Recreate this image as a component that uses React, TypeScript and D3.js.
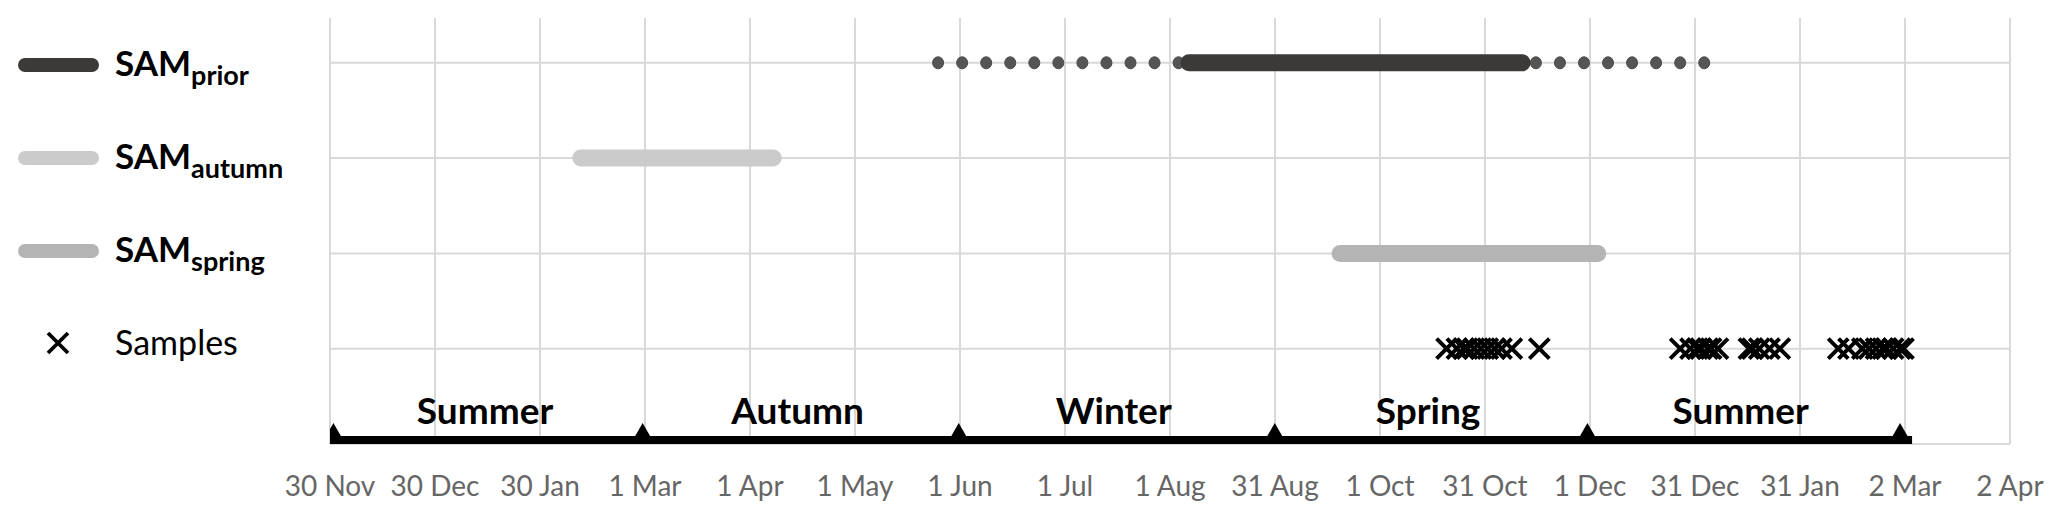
import React, { useEffect } from "react";
import * as d3 from "d3";

// ---------- data ----------
const tickLabels = [
  "30 Nov", "30 Dec", "30 Jan", "1 Mar", "1 Apr", "1 May", "1 Jun", "1 Jul",
  "1 Aug", "31 Aug", "1 Oct", "31 Oct", "1 Dec", "31 Dec", "31 Jan", "2 Mar", "2 Apr",
];
const axisStart = "2014-11-30";
const axisEnd = "2016-04-02";

const priorWeeklyDots = [
  "2015-05-26", "2015-06-02", "2015-06-09", "2015-06-16", "2015-06-23", "2015-06-30",
  "2015-07-07", "2015-07-14", "2015-07-21", "2015-07-28", "2015-08-04",
  "2015-11-16", "2015-11-23", "2015-11-30", "2015-12-07", "2015-12-14", "2015-12-21",
  "2015-12-28", "2016-01-04",
];
const priorCore = ["2015-08-07", "2015-11-12"];
const autumnRange = ["2015-02-11", "2015-04-08"];
const springRange = ["2015-09-20", "2015-12-04"];

const sampleDates = [
  "2015-10-21", "2015-10-24", "2015-10-26", "2015-10-27", "2015-10-29", "2015-10-31",
  "2015-11-02", "2015-11-04", "2015-11-06", "2015-11-09", "2015-11-17",
  "2015-12-28", "2015-12-31", "2016-01-02", "2016-01-03", "2016-01-05", "2016-01-06",
  "2016-01-08", "2016-01-17", "2016-01-18", "2016-01-20", "2016-01-23", "2016-01-26",
  "2016-02-12", "2016-02-15", "2016-02-19", "2016-02-21", "2016-02-23", "2016-02-25",
  "2016-02-26", "2016-02-28", "2016-03-01", "2016-03-02",
];

const seasonBounds = [
  "2014-12-01", "2015-03-01", "2015-06-01", "2015-09-01", "2015-12-01", "2016-03-01",
];
const seasonNames = ["Summer", "Autumn", "Winter", "Spring", "Summer"];

const legendBase = ["SAM", "SAM", "SAM"];
const legendSubs = ["prior", "autumn", "spring"];
const sampleLabel = "Samples";

// row values on the (hidden) y axis
const rowPrior = 4;
const rowAutumn = 3;
const rowSpring = 2;
const rowSamples = 1;
const rowSeasons = 0;
const yMax = 4.47;

// ---------- style ----------
const W = 2067;
const H = 520;
const FONT = "Lato, Carlito, Calibri, 'Open Sans', sans-serif";
const GRID = "#d9d9d9";
const C_PRIOR = "#3b3a38";
const C_DOT = "#555555";
const C_AUTUMN = "#cbcbcb";
const C_SPRING = "#b4b4b4";
const legendColors = [C_PRIOR, C_AUTUMN, C_SPRING];

const parse = d3.timeParse("%Y-%m-%d");

export default function App() {
  useEffect(() => {
    document.body.style.margin = "0";
  }, []);

  const start = parse(axisStart)!;
  const end = parse(axisEnd)!;
  const x = d3.scaleTime().domain([start, end]).range([330, 2010]);
  const y = d3.scaleLinear().domain([0, yMax]).range([444, 18]);

  const n = tickLabels.length - 1;
  const tickDates = tickLabels.map(
    (_, i) => new Date(+start + (i * (+end - +start)) / n)
  );

  const barW = 17;
  const seasonW = 8;
  const bx = seasonBounds.map((d) => x(parse(d)!));
  const seasonY = y(rowSeasons) - seasonW / 2;

  const xPath = (s: number) => `M${-s},${-s}L${s},${s}M${-s},${s}L${s},${-s}`;

  const legendRowsY = [65, 158, 251];
  const legendSampleY = 343;

  return (
    <svg width={W} height={H} style={{ display: "block", background: "#fff" }} fontFamily={FONT}>
      <defs>
        <clipPath id="plotClip">
          <rect x={x(start)} y={0} width={x(end) - x(start) + 20} height={H} />
        </clipPath>
      </defs>

      {/* gridlines */}
      <g>
        {tickDates.map((d, i) => (
          <line key={"v" + i} x1={x(d)} x2={x(d)} y1={y(yMax)} y2={y(0)} stroke={GRID} strokeWidth={2} />
        ))}
        {[rowSeasons, rowSamples, rowSpring, rowAutumn, rowPrior].map((r, i) => (
          <line key={"h" + i} x1={x(start)} x2={x(end)} y1={y(r)} y2={y(r)} stroke={GRID} strokeWidth={2} />
        ))}
      </g>

      {/* tick labels */}
      <g fill="#666666" fontSize={28} textAnchor="middle">
        {tickDates.map((d, i) => (
          <text key={"t" + i} x={x(d)} y={496}>{tickLabels[i]}</text>
        ))}
      </g>

      {/* SAM prior: weekly dots + core bar */}
      <g>
        {priorWeeklyDots.map((d, i) => (
          <ellipse key={"p" + i} cx={x(parse(d)!)} cy={y(rowPrior)} rx={5.5} ry={6} fill={C_DOT} stroke="#4a4a4a" strokeWidth={1} />
        ))}
        <line
          x1={x(parse(priorCore[0])!)} x2={x(parse(priorCore[1])!)}
          y1={y(rowPrior)} y2={y(rowPrior)}
          stroke={C_PRIOR} strokeWidth={barW} strokeLinecap="round"
        />
      </g>

      {/* SAM autumn */}
      <line
        x1={x(parse(autumnRange[0])!)} x2={x(parse(autumnRange[1])!)}
        y1={y(rowAutumn)} y2={y(rowAutumn)}
        stroke={C_AUTUMN} strokeWidth={barW} strokeLinecap="round"
      />
      {/* SAM spring */}
      <line
        x1={x(parse(springRange[0])!)} x2={x(parse(springRange[1])!)}
        y1={y(rowSpring)} y2={y(rowSpring)}
        stroke={C_SPRING} strokeWidth={barW} strokeLinecap="round"
      />

      {/* samples */}
      <g stroke="#000" strokeWidth={4} fill="none">
        {sampleDates.map((d, i) => (
          <path key={"s" + i} d={xPath(10)} transform={`translate(${x(parse(d)!)},${y(rowSamples)})`} />
        ))}
      </g>

      {/* season axis */}
      <g clipPath="url(#plotClip)">
        <line x1={bx[0]} x2={bx[bx.length - 1] + 12} y1={seasonY} y2={seasonY} stroke="#000" strokeWidth={seasonW} />
        {bx.map((bxv, i) => (
          <path key={"tri" + i}
            d={`M${bxv - 12},${seasonY + seasonW / 2}L${bxv},${seasonY - 17}L${bxv + 12},${seasonY + seasonW / 2}Z`}
            fill="#000" />
        ))}
      </g>
      <g fontSize={37} fontWeight="bold" textAnchor="middle" fill="#000">
        {seasonNames.map((s, i) => (
          <text key={"sn" + i} x={(bx[i] + bx[i + 1]) / 2 - 3} y={424}>{s}</text>
        ))}
      </g>

      {/* legend */}
      <g>
        {legendSubs.map((sub, i) => (
          <g key={"lg" + i}>
            <line x1={25} x2={92} y1={legendRowsY[i]} y2={legendRowsY[i]} stroke={legendColors[i]} strokeWidth={14} strokeLinecap="round" />
            <text x={115} y={legendRowsY[i] + 11} fontSize={35} fontWeight="bold" fill="#000">
              {legendBase[i]}
              <tspan fontSize={27} dy={9}>{sub}</tspan>
            </text>
          </g>
        ))}
        <path d={xPath(10)} transform={`translate(58,${legendSampleY})`} stroke="#000" strokeWidth={3.8} fill="none" />
        <text x={115} y={legendSampleY + 12} fontSize={34} fill="#000">{sampleLabel}</text>
      </g>
    </svg>
  );
}
